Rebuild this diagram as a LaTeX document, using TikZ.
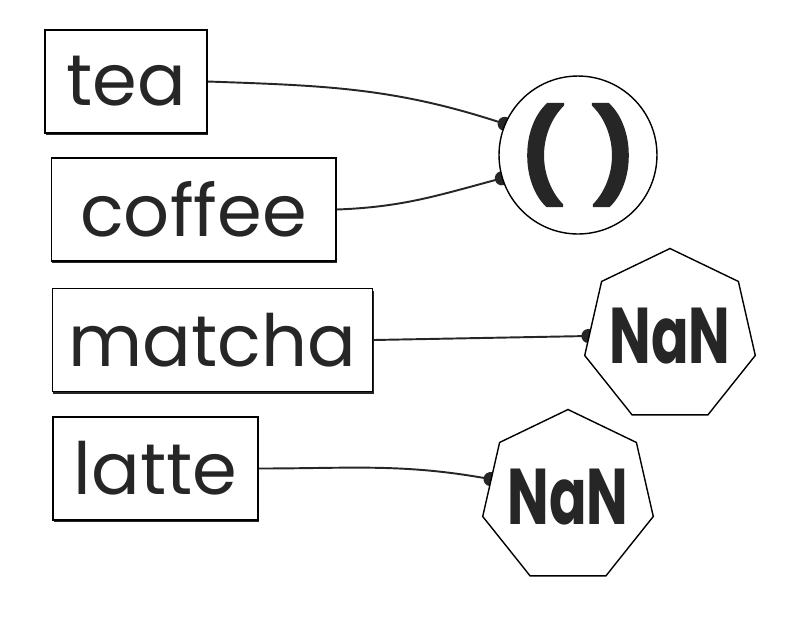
\documentclass[tikz,border=0pt]{standalone}
\usepackage{fontspec}
\setmainfont{Poppins}
\newfontfamily\nanfont[FakeStretch=0.7]{Poppins}
\newfontfamily\parenfont[FakeBold=2]{Poppins}
\usetikzlibrary{positioning, arrows.meta, shapes.geometric, shadows, backgrounds}

\begin{document}
\begin{tikzpicture}[x=0.02cm, y=-0.02cm,
        every node/.style={font=\fontsize{41}{50}\selectfont, text=black!85},
        word/.style={draw, line width=0.6pt, fill=white, minimum height=2.06cm, inner sep=0pt,
            drop shadow={shadow xshift=0.6pt, shadow yshift=-1.4pt, fill=black!85, opacity=1}},
        result/.style={draw, line width=0.8pt, fill=white, inner sep=0pt, font=\fontsize{45}{50}\selectfont\nanfont\bfseries},
        link/.style={-{Circle[length=8pt]}, shorten >=-4pt, line width=1.1pt, black!85}
    ]
        \useasboundingbox (0,0) rectangle (799,620);
        % Nodes
        \node (tea) at (126,81.5) [word, minimum width=3.24cm] {tea};
        \node (coffee) at (193.5,209.5) [word, minimum width=5.7cm] {coffee};
        \node (matcha) at (212.5,340) [word, minimum width=6.42cm] {matcha};
        \node (latte) at (155.5,468.5) [word, minimum width=4.1cm] {latte};
        \node (emptyList) at (578,155) [result, circle, minimum size=3.16cm, font=\fontsize{52}{56}\selectfont\parenfont\bfseries] {\makebox[0pt]{(\hspace{0.1em} )}};
        \node (nanTop) at (670,336) [result, regular polygon, regular polygon sides=7, minimum size=3.5cm] {\makebox[0pt]{NaN}};
        \node (nanBottom) at (568,497) [result, regular polygon, regular polygon sides=7, minimum size=3.5cm] {\makebox[0pt]{NaN}};

    \begin{pgfonlayer}{background}
        % Connections
        \draw[link] (tea.east) to[out=-2, in=162] (emptyList.157);
        \draw[link] (coffee.east) to[out=2, in=195] (emptyList.197);
        \draw[link] (matcha.east) -- (nanTop.180);
        \draw[link] (latte.east) to[out=0, in=170] (nanBottom.167);
    \end{pgfonlayer}
    \end{tikzpicture}
\end{document}
